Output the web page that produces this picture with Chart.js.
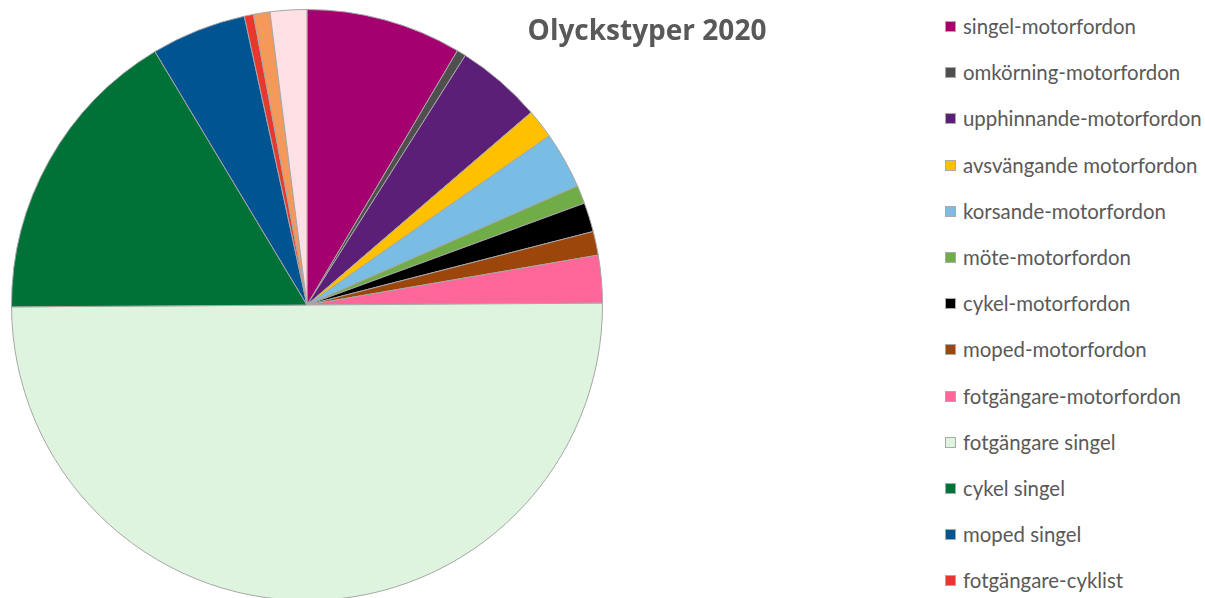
<!DOCTYPE html>
<html>
<head>
<meta charset="utf-8">
<script src="https://cdn.jsdelivr.net/npm/chart.js@4"></script>
<style>
	body { margin: 0; background: #fff; }
	#wrap { position: relative; width: 1205px; height: 598px; overflow: hidden; }
	#pie { position: absolute; left: 0; top: 0; }
	#title {
		position: absolute; left: 447px; top: 10px; width: 400px; text-align: center;
		font: bold 28px "Open Sans", sans-serif; color: #595959;
	}
	#legend { position: absolute; left: 945px; top: 0; }
	.item {
		position: absolute; left: 0; white-space: nowrap;
		font: 20.4px Lato, sans-serif; color: #595959; line-height: 24px;
	}
	.box { display: inline-block; width: 9px; height: 9px; border: 1px solid #aaa; margin-right: 7px; vertical-align: 2px; }
</style>
</head>
<body>
<div id="wrap">
	<canvas id="pie" width="620" height="620"></canvas>
	<div id="title">Olyckstyper 2020</div>
	<div id="legend"></div>
</div>
<script>
// olyckstyper, andel i procent (avläst)
const labels = [
	"singel-motorfordon",
	"omkörning-motorfordon",
	"upphinnande-motorfordon",
	"avsvängande motorfordon",
	"korsande-motorfordon",
	"möte-motorfordon",
	"cykel-motorfordon",
	"moped-motorfordon",
	"fotgängare-motorfordon",
	"fotgängare singel",
	"cykel singel",
	"moped singel",
	"fotgängare-cyklist",
	"cykel-cykel",
	"övrigt"
];
const values = [8.5, 0.5, 4.7, 1.6, 3.1, 1.0, 1.6, 1.3, 2.6, 50.0, 16.5, 5.2, 0.5, 0.9, 2.0];
const colors = [
	"#A50070", // magenta
	"#4F4F4F", // grey
	"#5B1F77", // purple
	"#FFC000", // yellow
	"#79BDE4", // light blue
	"#70AD47", // green
	"#000000", // black
	"#9C460C", // brown
	"#FF6699", // pink
	"#DFF4DF", // pale green
	"#007238", // dark green
	"#005492", // blue
	"#E8382E", // red
	"#F4995A", // orange
	"#FFE0E4"  // pale pink
];

new Chart(document.getElementById("pie"), {
	type: "pie",
	data: {
		labels: labels,
		datasets: [{
			data: values,
			backgroundColor: colors,
			borderColor: "#A6A6A6",
			borderWidth: 1,
		}],
	},
	options: {
		responsive: false,
		animation: false,
		layout: {
			padding: { left: 11, top: 9, right: 17, bottom: 19 },
		},
		plugins: {
			legend: { display: false },
			title: { display: false },
			tooltip: { enabled: false },
		},
	},
});

// legend built from the same arrays
const legend = document.getElementById("legend");
labels.forEach(function (label, i) {
	const item = document.createElement("div");
	item.className = "item";
	item.style.top = (14 + i * 46.2) + "px";
	item.innerHTML = '<span class="box" style="background:' + colors[i] + '"></span>' + label;
	legend.appendChild(item);
});
</script>
</body>
</html>
